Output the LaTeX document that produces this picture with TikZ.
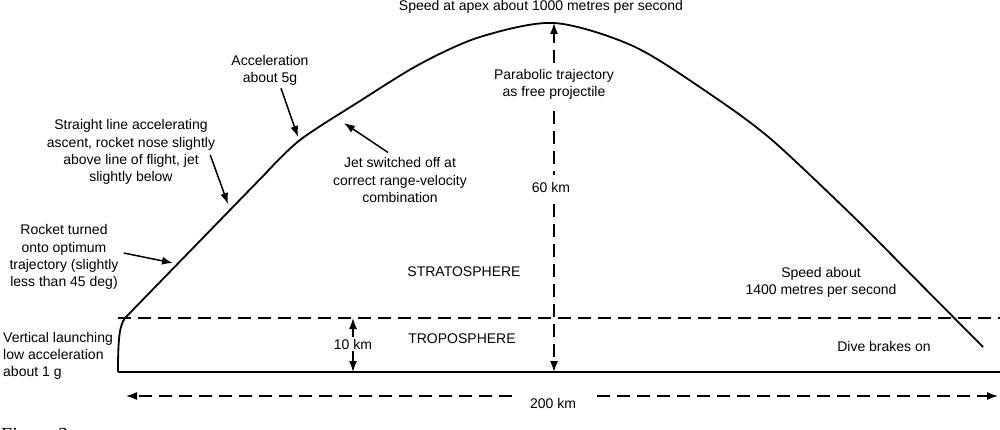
\documentclass[tikz,border=0pt]{standalone}
\usepackage{fontspec}
\setmainfont{Liberation Sans}
\newfontfamily\captionserif{Liberation Serif}
\usetikzlibrary{arrows.meta}

\tikzset{
  every node/.style={font=\fontsize{14}{17.2}\selectfont, inner sep=0pt},
  note/.style={align=center},
  traj/.style={line width=1.8pt, line join=round},
  ground/.style={line width=2.4pt},
  layer/.style={line width=1.5pt, dash pattern=on 13pt off 7pt},
  dim/.style={line width=1.5pt, dash pattern=on 13pt off 7pt, -{Latex[length=11pt,width=8pt]}},
  pointer/.style={line width=1.5pt, -{Latex[length=11pt,width=8pt]}},
}

\begin{document}
\begin{tikzpicture}[x=1pt,y=-1pt]
\useasboundingbox (0,0) rectangle (1000,430);
\clip (0,0) rectangle (1000,430);

% ground and tropopause
\coordinate (origin) at (118,372);
\coordinate (far) at (1000,372);
\coordinate (tropoL) at (118,318);
\coordinate (tropoR) at (1000,318);
\draw[ground] (origin) -- (far);
\draw[layer] (tropoL) -- (tropoR);

% flight path
\coordinate (turn) at (125,318);
\coordinate (climb) at (265,174);
\coordinate (apex) at (554,23);
\coordinate (land) at (983,347);
\draw[traj] (origin) .. controls (118,335) and (120,325) .. (turn) -- (climb)
  -- plot[smooth, tension=0.5] coordinates {(265,174) (300,140) (360,101) (420,64) (480,37) (554,23) (633,46) (707,92) (772,140) (860,223)}
  -- (land);

% labels
\node[anchor=base] (apexspeed) at (541,10.5) {Speed at apex about 1000 metres per second};
\node[note] (accel) at (270,70) {Acceleration\\about 5g};
\node[note] (straight) at (131,152) {Straight line accelerating\\ascent, rocket nose slightly\\above line of flight, jet\\slightly below};
\node[note] (jet) at (400,180) {Jet switched off at\\correct range-velocity\\combination};
\node[note] (rocket) at (64,257) {Rocket turned\\onto optimum\\trajectory (slightly\\less than 45 deg)};
\node[note, align=left, anchor=west] (vertical) at (3,356) {Vertical launching\\low acceleration\\about 1 g};
\node[note] (parabolic) at (554,84) {Parabolic trajectory\\as free projectile};
\node (sixty) at (551,187) {60 km};
\node (strato) at (464,272) {STRATOSPHERE};
\node (tropo) at (462,339) {TROPOSPHERE};
\node[note] (cruise) at (821,282) {Speed about\\1400 metres per second};
\node (brakes) at (884,346) {Dive brakes on};
\node (tenkm) at (353,344) {10 km};
\node (span) at (553,403) {200 km};
\node[font=\captionserif\fontsize{20}{24}\selectfont, anchor=north west] (caption) at (1,428) {Figure 2};

% pointers to the path
\coordinate (accelTip) at (298,137);
\coordinate (straightTip) at (228,204);
\coordinate (jetTip) at (344,123);
\coordinate (rocketTip) at (173,263);
\draw[pointer] ([xshift=11pt,yshift=-3pt]accel.south) -- (accelTip);
\draw[pointer] ([xshift=-5pt,yshift=-3pt]straight.east) -- (straightTip);
\draw[pointer] ([xshift=-12pt,yshift=5pt]jet.north) -- (jetTip);
\draw[pointer] ([xshift=5pt,yshift=4pt]rocket.east) -- (rocketTip);

% heights
\coordinate (apexfoot) at (554,372);
\draw[dim] ([yshift=6pt]parabolic.north) -- (apex);
\draw[layer] ([yshift=-12pt]parabolic.south) -- ([yshift=7pt]sixty.north -| apex);
\draw[dim] ([yshift=-12pt]sixty.south -| apex) -- (apexfoot);
\coordinate (tenTop) at (353,318);
\coordinate (tenFoot) at (353,372);
\draw[pointer] ([yshift=2pt]tenkm.north) -- (tenTop);
\draw[pointer] ([yshift=-2pt]tenkm.south) -- (tenFoot);

% range
\coordinate (spanL) at (126,396);
\coordinate (spanR) at (998,396);
\coordinate (spanGapL) at (512,396);
\coordinate (spanGapR) at (597,396);
\draw[dim] (spanGapL) -- (spanL);
\draw[dim] (spanGapR) -- (spanR);
\end{tikzpicture}
\end{document}
